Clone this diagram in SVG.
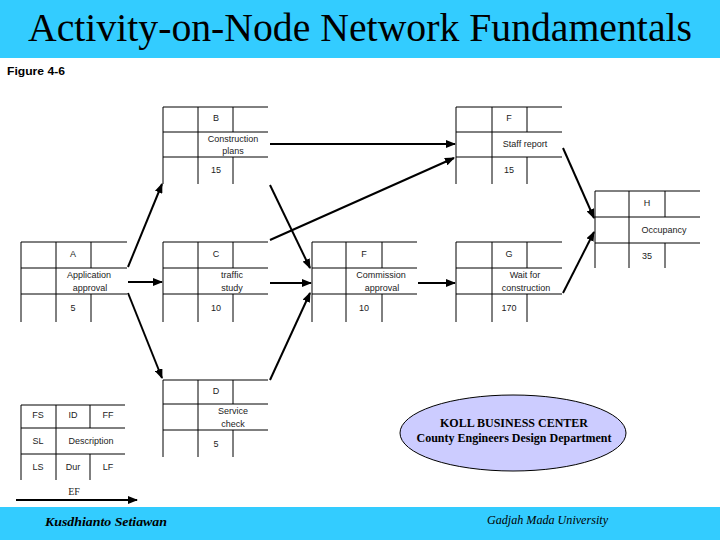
<svg xmlns="http://www.w3.org/2000/svg" width="720" height="540" viewBox="0 0 720 540">
<defs>
<style>
.g{stroke:#000;stroke-width:1;fill:none}
.t{font-family:"Liberation Sans",Arial,sans-serif;font-size:9px;fill:#222;text-anchor:middle}
.c{stroke:#000;stroke-width:2;fill:none;marker-end:url(#ah)}
.sv{font-family:"Liberation Serif","Times New Roman",serif}
</style>
<marker id="ah" markerUnits="userSpaceOnUse" markerWidth="10" markerHeight="8" refX="9" refY="4" orient="auto">
<path d="M0,0 L10,4 L0,8 Z" fill="#000"/>
</marker>
</defs>
<rect x="0" y="0" width="720" height="58" fill="#33CCFF"/>
<text class="sv" x="360" y="41" font-size="40" text-anchor="middle" textLength="664" lengthAdjust="spacingAndGlyphs" fill="#000">Activity-on-Node Network Fundamentals</text>
<text x="7" y="75" font-family="'Liberation Sans',Arial,sans-serif" font-size="11" font-weight="bold" textLength="58" lengthAdjust="spacingAndGlyphs" fill="#000">Figure 4-6</text>

<g id="node-B">
<path class="g" d="M163,107H268M163,132H268M163,157H268M163,107V184M198,107V184M233,107V132M233,157V184"/>
<text class="t" x="216" y="121">B</text>
<text class="t" x="233" y="142">Construction</text>
<text class="t" x="233" y="154">plans</text>
<text class="t" x="216" y="173">15</text>
</g>
<g id="node-Ftop">
<path class="g" d="M456,107H562M456,132H562M456,157H562M456,107V184M492,107V184M527,107V132M527,157V184"/>
<text class="t" x="509" y="121">F</text>
<text class="t" x="525" y="147">Staff report</text>
<text class="t" x="509" y="173">15</text>
</g>
<g id="node-H">
<path class="g" d="M595,191H700M595,217H700M595,243H700M595,191V268M629,191V268M665,191V217M665,243V268"/>
<text class="t" x="647" y="206">H</text>
<text class="t" x="664" y="233">Occupancy</text>
<text class="t" x="647" y="259">35</text>
</g>
<g id="node-A">
<path class="g" d="M21,242H127M21,268H127M21,294H127M21,242V322M56,242V322M91,242V268M91,294V322"/>
<text class="t" x="73" y="257">A</text>
<text class="t" x="89" y="278">Application</text>
<text class="t" x="90" y="291">approval</text>
<text class="t" x="73" y="311">5</text>
</g>
<g id="node-C">
<path class="g" d="M163,242H268M163,268H268M163,294H268M163,242V322M198,242V322M233,242V268M233,294V322"/>
<text class="t" x="216" y="257">C</text>
<text class="t" x="232" y="278">traffic</text>
<text class="t" x="232" y="291">study</text>
<text class="t" x="216" y="311">10</text>
</g>
<g id="node-E">
<path class="g" d="M312,242H417M312,268H417M312,294H417M312,242V322M346,242V322M382,242V268M382,294V322"/>
<text class="t" x="364" y="257">F</text>
<text class="t" x="381" y="278">Commission</text>
<text class="t" x="382" y="291">approval</text>
<text class="t" x="364" y="311">10</text>
</g>
<g id="node-G">
<path class="g" d="M456,242H562M456,268H562M456,294H562M456,242V322M492,242V322M527,242V268M527,294V322"/>
<text class="t" x="509" y="257">G</text>
<text class="t" x="525" y="278">Wait for</text>
<text class="t" x="526" y="291">construction</text>
<text class="t" x="509" y="311">170</text>
</g>
<g id="node-D">
<path class="g" d="M163,380H268M163,404H268M163,430H268M163,380V457M198,380V457M233,380V404M233,430V457"/>
<text class="t" x="216" y="394">D</text>
<text class="t" x="233" y="414">Service</text>
<text class="t" x="233" y="427">check</text>
<text class="t" x="216" y="447">5</text>
</g>
<g id="legend">
<path class="g" d="M21,405H125M21,428H125M21,454H125M21,405V480M56,405V480M90,405V428M90,454V480"/>
<text class="t" x="38" y="418" font-size="10">FS</text>
<text class="t" x="73" y="418" font-size="10">ID</text>
<text class="t" x="108" y="418" font-size="10">FF</text>
<text class="t" x="38" y="444" font-size="10">SL</text>
<text class="t" x="91" y="444">Description</text>
<text class="t" x="38" y="470" font-size="10">LS</text>
<text class="t" x="73" y="470">Dur</text>
<text class="t" x="108" y="470" font-size="10">LF</text>
<text class="sv" x="74" y="495" font-size="10" text-anchor="middle" fill="#222">EF</text>
<line class="c" x1="16" y1="500" x2="137" y2="500"/>
</g>

<g id="connectors">
<line class="c" x1="128" y1="267" x2="162" y2="184"/>
<line class="c" x1="128" y1="282" x2="162" y2="282"/>
<line class="c" x1="128" y1="293" x2="162" y2="378"/>
<line class="c" x1="270" y1="144" x2="455" y2="144"/>
<line class="c" x1="270" y1="185" x2="310" y2="268"/>
<line class="c" x1="270" y1="240" x2="454" y2="158"/>
<line class="c" x1="270" y1="283" x2="311" y2="283"/>
<line class="c" x1="270" y1="380" x2="310" y2="293"/>
<line class="c" x1="418" y1="283" x2="455" y2="283"/>
<line class="c" x1="563" y1="148" x2="594" y2="218"/>
<line class="c" x1="563" y1="293" x2="594" y2="232"/>
</g>

<g id="koll">
<ellipse cx="513" cy="433" rx="113" ry="38" fill="#CCCCFF" stroke="#000" stroke-width="1"/>
<text class="sv" x="514" y="427" font-size="12" font-weight="bold" text-anchor="middle" fill="#000">KOLL BUSINESS CENTER</text>
<text class="sv" x="514" y="442" font-size="12" font-weight="bold" text-anchor="middle" fill="#000">County Engineers Design Department</text>
</g>

<rect x="0" y="507" width="720" height="33" fill="#33CCFF"/>
<text class="sv" x="45" y="526" font-size="13" font-weight="bold" font-style="italic" textLength="122" lengthAdjust="spacingAndGlyphs" fill="#000">Kusdhianto Setiawan</text>
<text class="sv" x="487" y="524" font-size="12" font-style="italic" textLength="121" lengthAdjust="spacingAndGlyphs" fill="#000">Gadjah Mada University</text>
</svg>
